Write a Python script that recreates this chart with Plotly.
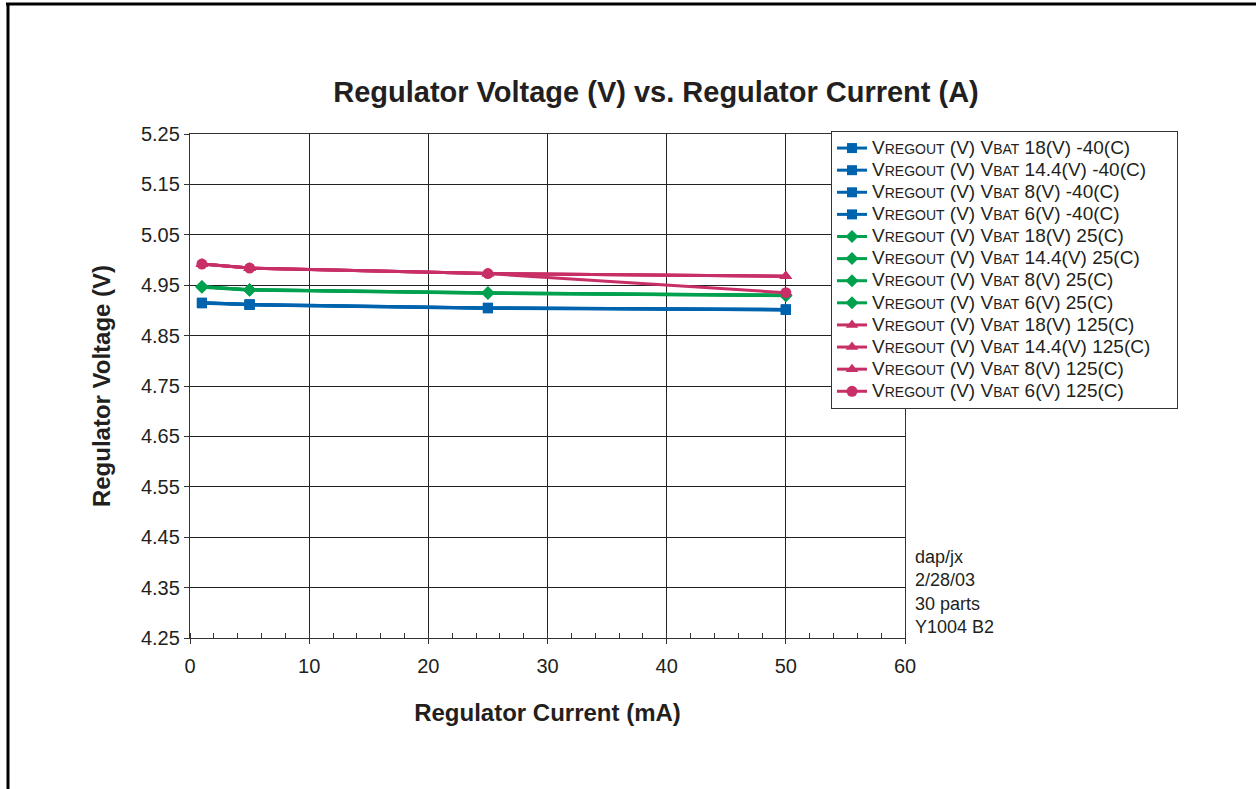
import plotly.graph_objects as go

current_mA = [1, 5, 25, 50]

# -40 C series (blue, squares)
v_18_m40 = [4.915, 4.912, 4.905, 4.902]
v_144_m40 = [4.915, 4.912, 4.905, 4.902]
v_8_m40 = [4.915, 4.911, 4.905, 4.901]
v_6_m40 = [4.914, 4.911, 4.904, 4.901]
# 25 C series (green, diamonds)
v_18_25 = [4.947, 4.941, 4.935, 4.930]
v_144_25 = [4.947, 4.941, 4.935, 4.930]
v_8_25 = [4.947, 4.941, 4.934, 4.930]
v_6_25 = [4.946, 4.940, 4.934, 4.929]
# 125 C series (magenta; triangles / circle)
v_18_125 = [4.992, 4.984, 4.973, 4.968]
v_144_125 = [4.992, 4.984, 4.973, 4.968]
v_8_125 = [4.992, 4.984, 4.973, 4.968]
v_6_125 = [4.992, 4.984, 4.973, 4.935]

BLUE = "#0063ae"
GREEN = "#00a14e"
RED = "#c82f66"
TXT = "#231f20"

def big(s):
    return f"<span style='font-size:19px'>{s}</span>"

def sc(s):
    return f"<span style='font-size:14px'>{s}</span>"

def name(vb, t):
    return (big("V") + sc("REGOUT") + big(" (V) V") + sc("BAT")
            + big(f" {vb}(V) {t}(C)") + big("\u00a0\u00a0\u00a0\u00a0"))

series = [
    (v_18_m40, "18", "-40", BLUE, "square"),
    (v_144_m40, "14.4", "-40", BLUE, "square"),
    (v_8_m40, "8", "-40", BLUE, "square"),
    (v_6_m40, "6", "-40", BLUE, "square"),
    (v_18_25, "18", "25", GREEN, "diamond"),
    (v_144_25, "14.4", "25", GREEN, "diamond"),
    (v_8_25, "8", "25", GREEN, "diamond"),
    (v_6_25, "6", "25", GREEN, "diamond"),
    (v_18_125, "18", "125", RED, "triangle-up"),
    (v_144_125, "14.4", "125", RED, "triangle-up"),
    (v_8_125, "8", "125", RED, "triangle-up"),
    (v_6_125, "6", "125", RED, "circle"),
]

fig = go.Figure()
for vals, vb, t, col, sym in series:
    size = 11 if sym in ("circle", "triangle-up") else (10 if sym == "square" else 10)
    fig.add_trace(go.Scatter(
        x=current_mA, y=vals, mode="lines+markers", name=name(vb, t),
        line=dict(color=col, width=3),
        marker=dict(color=col, symbol=sym, size=size),
    ))

W, H = 1256, 789
L, R, T, B = 190, 351, 134, 151
PW, PH = W - L - R, H - T - B

fig.update_layout(
    width=W, height=H,
    margin=dict(l=L, r=R, t=T, b=B, autoexpand=False),
    paper_bgcolor="white", plot_bgcolor="white",
    font=dict(family="Liberation Sans, Arial, sans-serif", color=TXT, size=16),
    title=dict(text="<b>Regulator Voltage (V) vs. Regulator Current (A)</b>",
               x=656 / W, xanchor="center", y=1 - 92 / H, yanchor="middle",
               font=dict(size=29, color=TXT)),
    showlegend=True,
    legend=dict(x=(831 - L) / PW, xanchor="left",
                y=1 + (T - 131) / PH, yanchor="top",
                bgcolor="white", bordercolor="#333", borderwidth=1,
                font=dict(size=14.7, color=TXT), itemwidth=30,
                tracegroupgap=0),
    xaxis=dict(range=[0, 60], dtick=10, tick0=0, showgrid=True,
               gridcolor="#222", gridwidth=1.3, zeroline=False,
               showline=True, linecolor="#333", linewidth=1.3, mirror=True,
               ticks="outside", ticklen=5, tickcolor="#333", ticklabelstandoff=5,
               minor=dict(dtick=2, ticks="inside", ticklen=5, tickcolor="#333", showgrid=False),
               tickfont=dict(size=20, color=TXT),
               title=dict(text="<b>Regulator Current (mA)</b>", font=dict(size=24, color=TXT), standoff=28)),
    yaxis=dict(range=[4.25, 5.25], dtick=0.1, tick0=4.25, tickformat=".2f", showgrid=True,
               gridcolor="#222", gridwidth=1.3, zeroline=False,
               showline=True, linecolor="#333", linewidth=1.3, mirror=True,
               ticks="outside", ticklen=5, tickcolor="#333",
               tickfont=dict(size=20, color=TXT),
               title=dict(text="<b>Regulator Voltage (V)</b>", font=dict(size=24, color=TXT), standoff=23)),
    annotations=[dict(
        text="dap/jx<br>2/28/03<br>30 parts<br>Y1004 B2",
        xref="paper", yref="paper",
        x=(913 - L) / PW, xanchor="left",
        y=1 - (545 - T) / PH, yanchor="top",
        align="left", showarrow=False, font=dict(size=18, color=TXT))],
    shapes=[
        dict(type="line", xref="paper", yref="paper",
             x0=-(L - 6) / PW, x1=(W - L) / PW,
             y0=1 + (T - 4) / PH, y1=1 + (T - 4) / PH,
             line=dict(color="black", width=3)),
        dict(type="line", xref="paper", yref="paper",
             x0=-(L - 8) / PW, x1=-(L - 8) / PW,
             y0=1 + (T - 3) / PH, y1=-B / PH,
             line=dict(color="black", width=3)),
    ],
)

fig.write_html("out.html", config={"displayModeBar": False},
               post_script="document.body.style.margin='0px';document.body.style.padding='0px';")
